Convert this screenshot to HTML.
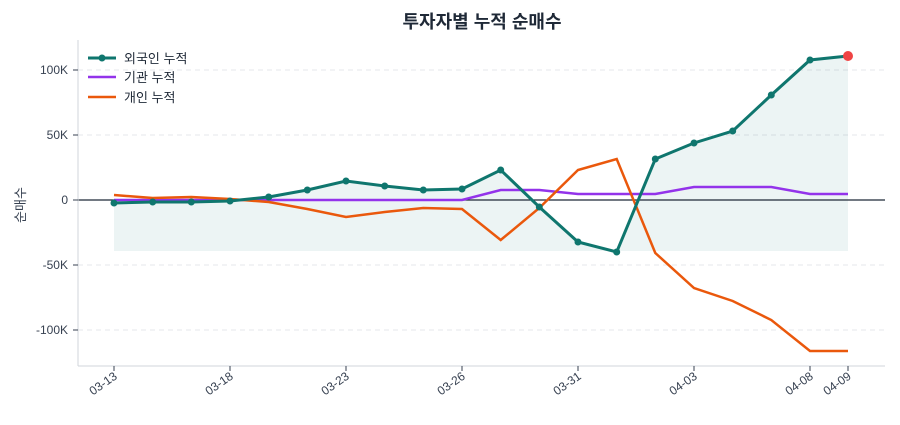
<!DOCTYPE html>
<html><head><meta charset="utf-8"><style>
body{margin:0;background:#fff;font-family:"Liberation Sans","Noto Sans CJK KR",sans-serif;}
</style></head><body>
<svg width="900" height="420" xmlns="http://www.w3.org/2000/svg" font-family="Liberation Sans, Noto Sans CJK KR, sans-serif">
<rect width="900" height="420" fill="#fff"/>
<text x="482" y="28" text-anchor="middle" font-size="18" font-weight="bold" fill="#1f2937">투자자별 누적 순매수</text>
<g stroke="#e5e7eb" stroke-dasharray="5,4" stroke-width="1">
<line x1="78" x2="885" y1="70" y2="70"/><line x1="78" x2="885" y1="135" y2="135"/>
<line x1="78" x2="885" y1="265" y2="265"/><line x1="78" x2="885" y1="330" y2="330"/>
</g>
<polygon fill="#0f766e" fill-opacity="0.08" points="114,251 114,203 152.7,202 191.3,202 230,201 268.7,197 307.3,190 346,181 384.7,186 423.3,190 462,189 500.7,170 539.3,207 578,242 616.7,252 655.3,159 694,143 732.7,131 771.3,95 810,60 848,56 848,251"/>
<line x1="78" x2="885" y1="200" y2="200" stroke="#1f2937" stroke-width="1.2"/>
<line x1="78" x2="78" y1="40" y2="366" stroke="#d1d5db"/>
<line x1="78" x2="885" y1="366" y2="366" stroke="#d1d5db"/>
<g font-size="12" fill="#374151" text-anchor="end">
<text x="68" y="74">100K</text><text x="68" y="139">50K</text><text x="68" y="204">0</text>
<text x="68" y="269">-50K</text><text x="68" y="334">-100K</text>
</g>
<g stroke="#374151"><line x1="73" x2="78" y1="70" y2="70"/><line x1="73" x2="78" y1="135" y2="135"/><line x1="73" x2="78" y1="200" y2="200"/><line x1="73" x2="78" y1="265" y2="265"/><line x1="73" x2="78" y1="330" y2="330"/></g>
<text x="20" y="210" font-size="13" fill="#374151" text-anchor="middle" transform="rotate(-90 20 205)">순매수</text>
<g font-size="12" fill="#374151" text-anchor="end" stroke="none">
<text transform="translate(118,378) rotate(-35)">03-13</text>
<text transform="translate(234,378) rotate(-35)">03-18</text>
<text transform="translate(350,378) rotate(-35)">03-23</text>
<text transform="translate(466,378) rotate(-35)">03-26</text>
<text transform="translate(582,378) rotate(-35)">03-31</text>
<text transform="translate(698,378) rotate(-35)">04-03</text>
<text transform="translate(814,378) rotate(-35)">04-08</text>
<text transform="translate(852,378) rotate(-35)">04-09</text>
</g>
<g stroke="#374151"><line x1="114" x2="114" y1="366" y2="371"/><line x1="230" x2="230" y1="366" y2="371"/><line x1="346" x2="346" y1="366" y2="371"/><line x1="462" x2="462" y1="366" y2="371"/><line x1="578" x2="578" y1="366" y2="371"/><line x1="694" x2="694" y1="366" y2="371"/><line x1="810" x2="810" y1="366" y2="371"/><line x1="848" x2="848" y1="366" y2="371"/></g>
<polyline fill="none" stroke="#9333ea" stroke-width="2.5" points="114,200 152.7,200 191.3,200 230,200 268.7,200 307.3,200 346,200 384.7,200 423.3,200 462,200 500.7,190 539.3,190 578,194 616.7,194 655.3,194 694,187 732.7,187 771.3,187 810,194 848,194"/>
<polyline fill="none" stroke="#ea580c" stroke-width="2.5" points="114,195 152.7,198 191.3,197 230,199 268.7,202 307.3,209 346,217 384.7,212 423.3,208 462,209 500.7,240 539.3,208 578,170 616.7,159 655.3,253 694,288 732.7,301 771.3,320 810,351 848,351"/>
<polyline fill="none" stroke="#0f766e" stroke-width="3" points="114,203 152.7,202 191.3,202 230,201 268.7,197 307.3,190 346,181 384.7,186 423.3,190 462,189 500.7,170 539.3,207 578,242 616.7,252 655.3,159 694,143 732.7,131 771.3,95 810,60 848,56"/>
<g fill="#0f766e">
<circle cx="114" cy="203" r="3.5"/><circle cx="152.7" cy="202" r="3.5"/><circle cx="191.3" cy="202" r="3.5"/><circle cx="230" cy="201" r="3.5"/><circle cx="268.7" cy="197" r="3.5"/><circle cx="307.3" cy="190" r="3.5"/><circle cx="346" cy="181" r="3.5"/><circle cx="384.7" cy="186" r="3.5"/><circle cx="423.3" cy="190" r="3.5"/><circle cx="462" cy="189" r="3.5"/><circle cx="500.7" cy="170" r="3.5"/><circle cx="539.3" cy="207" r="3.5"/><circle cx="578" cy="242" r="3.5"/><circle cx="616.7" cy="252" r="3.5"/><circle cx="655.3" cy="159" r="3.5"/><circle cx="694" cy="143" r="3.5"/><circle cx="732.7" cy="131" r="3.5"/><circle cx="771.3" cy="95" r="3.5"/><circle cx="810" cy="60" r="3.5"/>
</g>
<circle cx="848" cy="56" r="5" fill="#ef4444"/>
<line x1="88" x2="116" y1="58" y2="58" stroke="#0f766e" stroke-width="3"/><circle cx="102" cy="58" r="3.5" fill="#0f766e"/>
<text x="124" y="63" font-size="13" fill="#1f2937">외국인 누적</text>
<line x1="88" x2="116" y1="77" y2="77" stroke="#9333ea" stroke-width="2.5"/>
<text x="124" y="82" font-size="13" fill="#1f2937">기관 누적</text>
<line x1="88" x2="116" y1="97" y2="97" stroke="#ea580c" stroke-width="2.5"/>
<text x="124" y="102" font-size="13" fill="#1f2937">개인 누적</text>
</svg>
</body></html>
